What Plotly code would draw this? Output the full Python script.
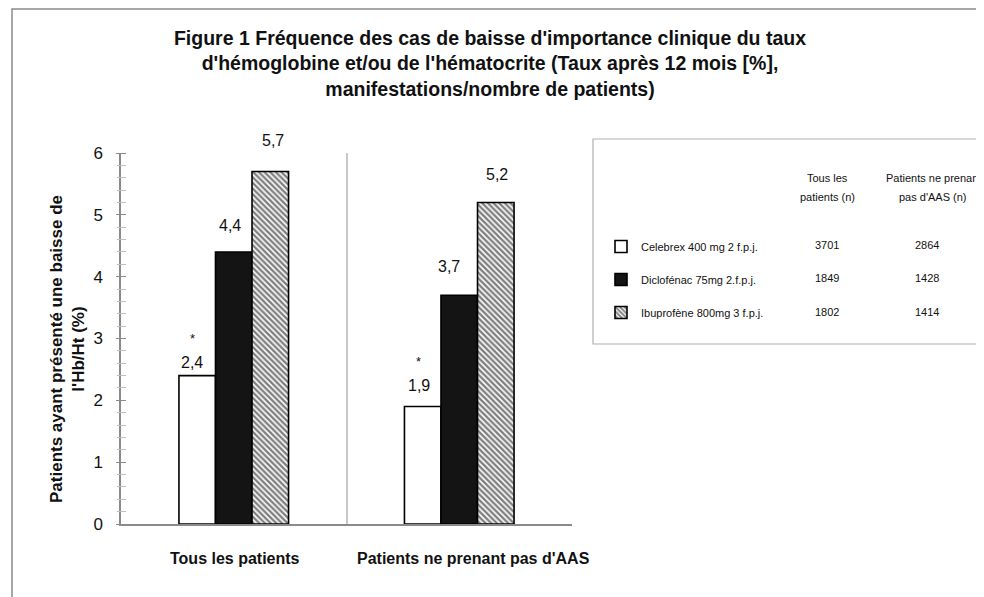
import plotly.graph_objects as go

# ---------------- data ----------------
categories = ["Tous les patients", "Patients ne prenant pas d'AAS"]
series_names = ["Celebrex 400 mg 2 f.p.j.", "Diclofénac 75mg 2.f.p.j.", "Ibuprofène 800mg 3 f.p.j."]
celebrex = [2.4, 1.9]
diclofenac = [4.4, 3.7]
ibuprofene = [5.7, 5.2]
significant_celebrex = [True, True]  # asterisk above the Celebrex bars
n_tous = [3701, 1849, 1802]
n_sans_aas = [2864, 1428, 1414]
header_tous = ["Tous les", "patients (n)"]
header_sans_aas = ["Patients ne prenant", "pas d'AAS (n)"]
y_ticks = [0, 1, 2, 3, 4, 5, 6]

title_text = ("<b>Figure 1 Fréquence des cas de baisse d'importance clinique du taux<br>"
              "d'hémoglobine et/ou de l'hématocrite (Taux après 12 mois [%],<br>"
              "manifestations/nombre de patients)</b>")
y_title = "<b>Patients ayant présenté une baisse de<br>l'Hb/Ht (%)</b>"

# ---------------- style / layout constants ----------------
W, H = 984, 597
OFF = 8                                  # page body margin offset
L, R, T, B = 121 - OFF, 572 - OFF, 153 - OFF, 524 - OFF   # plot area in figure pixels
FONT = "Liberation Sans, Arial, sans-serif"
TXT = "#111111"
BARGAP = 0.514
series_values = [celebrex, diclofenac, ibuprofene]
# label pixel offsets (style)
label_dy = [[13, 21], [26, 29], [31, 28]]
label_dx = [[-5, -4], [-4, -10], [3, 1]]
cat_label_dx = [1, 14]


def px(xs):
    """screen x (as in the reference) -> paper fraction"""
    return (xs - OFF - L) / (R - L)


def py(ys):
    """screen y (as in the reference) -> paper fraction"""
    return (B - (ys - OFF)) / (B - T)


fig = go.Figure()

bar_styles = [
    dict(color="white", line=dict(color="black", width=1.6)),
    dict(color="#141414", line=dict(color="black", width=1.6)),
    dict(color="white", line=dict(color="black", width=1.6),
         pattern=dict(shape="\\", fgcolor="black", bgcolor="white", size=4, solidity=0.6)),
]

for i, (name, vals) in enumerate(zip(series_names, series_values)):
    fig.add_trace(go.Bar(
        x=categories, y=vals, name=name, marker=bar_styles[i],
        legendgroup=f"g{i}", hoverinfo="skip",
    ))

# invisible trace for the crossing-tick overlay axis
fig.add_trace(go.Scatter(x=[], y=[], yaxis="y2", showlegend=False, hoverinfo="skip"))

# value labels
bar_w = (1 - BARGAP) / 3
annotations = []
for si, vals in enumerate(series_values):
    for ci, v in enumerate(vals):
        xpos = ci + (si - 1) * bar_w
        annotations.append(dict(
            x=xpos, y=v, xref="x", yref="y", text=f"{v:.1f}".replace(".", ","),
            showarrow=False, yanchor="middle", xanchor="center",
            yshift=label_dy[si][ci], xshift=label_dx[si][ci],
            font=dict(family=FONT, size=16, color=TXT),
        ))
        if si == 0 and significant_celebrex[ci]:
            annotations.append(dict(
                x=xpos, y=v, xref="x", yref="y", text="*",
                showarrow=False, yanchor="middle", xanchor="center",
                yshift=label_dy[si][ci] + 24, xshift=label_dx[si][ci],
                font=dict(family=FONT, size=13, color=TXT),
            ))

# category labels under the axis
for ci, cat in enumerate(categories):
    annotations.append(dict(
        x=ci, y=py(558), xref="x", yref="paper", text=f"<b>{cat}</b>",
        showarrow=False, xanchor="center", yanchor="middle", xshift=cat_label_dx[ci],
        font=dict(family=FONT, size=16, color=TXT),
    ))

# y axis title
annotations.append(dict(
    x=px(67), y=py(349), xref="paper", yref="paper", text=y_title, textangle=-90,
    showarrow=False, xanchor="center", yanchor="middle",
    font=dict(family=FONT, size=17, color=TXT),
))

# table headers and numbers
col_x = [827, 927]
head_x = [827, 933]
head_y = [178, 197]
row_y = [245, 278, 312]
for hx, lines in zip(head_x, [header_tous, header_sans_aas]):
    for hy, t in zip(head_y, lines):
        annotations.append(dict(
            x=px(hx), y=py(hy), xref="paper", yref="paper",
            text=t, showarrow=False, xanchor="center", yanchor="middle",
            font=dict(family=FONT, size=11, color=TXT),
        ))
for ri in range(3):
    for cx, col in zip(col_x, [n_tous, n_sans_aas]):
        annotations.append(dict(
            x=px(cx), y=py(row_y[ri]), xref="paper", yref="paper",
            text=str(col[ri]), showarrow=False, xanchor="center", yanchor="middle",
            font=dict(family=FONT, size=11, color=TXT),
        ))

shapes = [
    # outer figure border (only top & left visible)
    dict(type="rect", xref="paper", yref="paper",
         x0=px(12), x1=px(1010), y0=py(640), y1=py(9),
         line=dict(color="#8a8a8a", width=1.5), fillcolor="rgba(0,0,0,0)", layer="below"),
    # legend/table box
    dict(type="rect", xref="paper", yref="paper",
         x0=px(593), x1=px(1010), y0=py(344), y1=py(139),
         line=dict(color="#b0b0b0", width=1.2), fillcolor="rgba(0,0,0,0)", layer="below"),
]

fig.update_layout(
    width=W, height=H,
    margin=dict(l=L, r=W - R, t=T, b=H - B, autoexpand=False),
    paper_bgcolor="white", plot_bgcolor="white",
    barmode="group", bargap=BARGAP, bargroupgap=0,
    font=dict(family=FONT, color=TXT),
    title=dict(text=title_text, x=(490 - OFF) / W, xanchor="center", y=1 - (45 - OFF) / H,
               yanchor="top", yref="container",
               font=dict(family=FONT, size=19.5, color=TXT)),
    xaxis=dict(
        type="category", range=[-0.5, 1.5], tickson="boundaries",
        showgrid=True, gridcolor="#c8c8c8", gridwidth=1.5,
        showline=True, linecolor="#8a8a8a", linewidth=1.5,
        ticks="", showticklabels=False,
        fixedrange=True,
    ),
    yaxis=dict(
        range=[0, 6], tickvals=y_ticks, showgrid=False, zeroline=False,
        showline=True, linecolor="#8a8a8a", linewidth=1.5,
        ticks="", ticklabelstandoff=13,
        tickfont=dict(family=FONT, size=17, color=TXT),
        fixedrange=True,
    ),
    # tick-only axis placed 5 px right of the main axis line so its
    # outside ticks cross the axis line (as in the reference)
    yaxis2=dict(
        overlaying="y", matches="y", anchor="free", side="left", position=5 / (R - L),
        range=[0, 6], tickvals=y_ticks, showgrid=False, zeroline=False, showline=False,
        ticks="outside", ticklen=10, tickcolor="#8a8a8a", tickwidth=1.2,
        minor=dict(dtick=0.2, ticks="outside", ticklen=9, tickcolor="#bdbdbd", tickwidth=1.2),
        showticklabels=False, fixedrange=True,
    ),
    legend=dict(
        x=px(601), y=py(232), xanchor="left", yanchor="top",
        bgcolor="rgba(0,0,0,0)", borderwidth=0,
        font=dict(family=FONT, size=11, color=TXT),
        tracegroupgap=14, itemclick=False, itemdoubleclick=False,
    ),
    annotations=annotations,
    shapes=shapes,
    showlegend=True,
)

fig.write_html("out.html")
